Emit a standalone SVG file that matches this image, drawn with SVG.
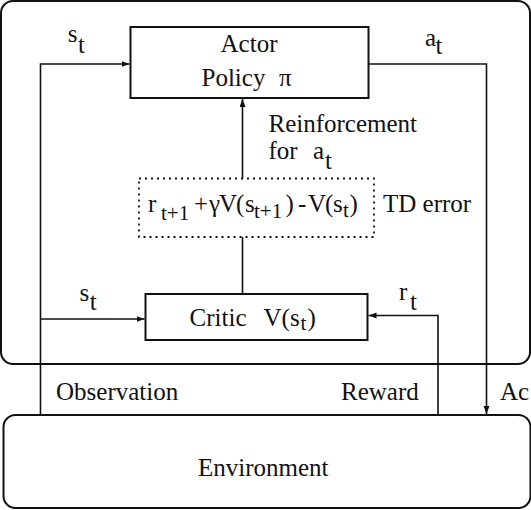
<svg xmlns="http://www.w3.org/2000/svg" width="531" height="510" viewBox="0 0 531 510">
<defs>
<style>
.box{fill:none;stroke:#111;stroke-width:2}
.dot{fill:none;stroke:#111;stroke-width:1.8;stroke-dasharray:2 4}
.ln{fill:none;stroke:#111;stroke-width:1.6}
.sub{font-size:21px}
</style>
<marker id="arr" markerUnits="userSpaceOnUse" markerWidth="9" markerHeight="7" refX="8" refY="3" orient="auto">
<path d="M0,0 L8,3 L0,6 z" fill="#111"/>
</marker>
</defs>
<rect width="531" height="510" fill="#fff"/>
<g font-family="'Liberation Serif', 'Times New Roman', 'DejaVu Serif', serif" font-size="25" fill="#111">
<g id="agent">
<rect class="box" x="1" y="1" width="529" height="363" rx="12"/>
</g>
<g id="environment">
<rect class="box" x="3.5" y="415" width="527" height="93" rx="12"/>
<text x="198" y="476">Environment</text>
</g>
<g id="actor">
<rect class="box" x="130.5" y="27" width="238" height="71"/>
<text x="249" y="52" text-anchor="middle">Actor</text>
<text y="86"><tspan x="201.5">Policy</tspan><tspan x="279">π</tspan></text>
</g>
<g id="critic">
<rect class="box" x="145.5" y="294" width="222" height="46"/>
<text y="326"><tspan x="189.6">Critic</tspan><tspan x="263.5">V</tspan><tspan x="281.5">(</tspan><tspan x="290">s</tspan><tspan x="300.5" y="330" class="sub">t</tspan><tspan x="307.5" y="326">)</tspan></text>
</g>
<g id="td-error">
<rect class="dot" x="139" y="178.5" width="235" height="58.5"/>
<text y="212"><tspan x="148">r</tspan><tspan x="161" y="220" class="sub">t+1</tspan><tspan x="194" y="212">+</tspan><tspan x="209">γ</tspan><tspan x="219">V</tspan><tspan x="236">(</tspan><tspan x="245">s</tspan><tspan x="254" y="218" class="sub">t+1</tspan><tspan x="285.5" y="212">)</tspan><tspan x="298">-</tspan><tspan x="308">V</tspan><tspan x="325">(</tspan><tspan x="333">s</tspan><tspan x="343" y="217" class="sub">t</tspan><tspan x="349.5" y="212">)</tspan></text>
<text x="383" y="212">TD error</text>
</g>
<g id="connectors">
<path class="ln" d="M40.5 415 V64 H129.5" marker-end="url(#arr)"/>
<path class="ln" d="M40.5 319 H144.5" marker-end="url(#arr)"/>
<path class="ln" d="M368.5 64 H486.5 V414" marker-end="url(#arr)"/>
<path class="ln" d="M438 415 V315.5 H368.5" marker-end="url(#arr)"/>
<path class="ln" d="M242.5 178.5 V99" marker-end="url(#arr)"/>
<path class="ln" d="M242.5 294 V237"/>
</g>
<g id="labels">
<text y="42"><tspan x="67.7">s</tspan><tspan x="78" y="52.5">t</tspan></text>
<text y="45.5"><tspan x="425">a</tspan><tspan x="435.5" y="54">t</tspan></text>
<text x="268.5" y="132">Reinforcement</text>
<text y="159"><tspan x="268.5">for</tspan><tspan x="313">a</tspan><tspan x="325" y="169">t</tspan></text>
<text y="301"><tspan x="79.6">s</tspan><tspan x="89.7" y="310">t</tspan></text>
<text y="300"><tspan x="399">r</tspan><tspan x="410" y="310">t</tspan></text>
<text x="56" y="400">Observation</text>
<text x="341" y="400">Reward</text>
<text x="500" y="400">Ac</text>
</g>
</g>
</svg>
